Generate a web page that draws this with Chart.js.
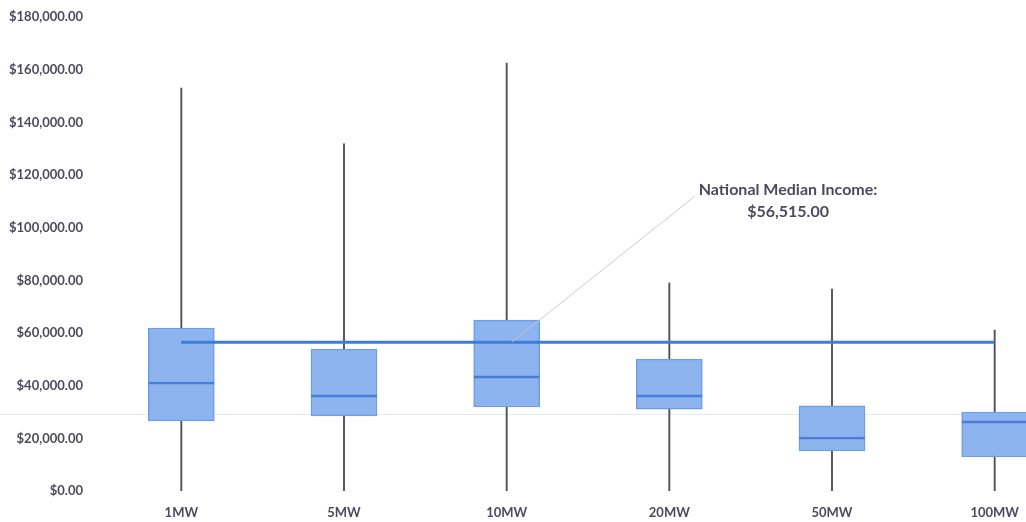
<!DOCTYPE html>
<html>
<head>
<meta charset="utf-8">
<script src="https://cdn.jsdelivr.net/npm/chart.js@4.4.1/dist/chart.umd.min.js"></script>
<style>
  html, body { margin: 0; padding: 0; background: #ffffff; overflow: hidden; }
  #wrap { width: 1080px; height: 522px; }
</style>
</head>
<body>
<div id="wrap"><canvas id="c" width="1080" height="522"></canvas></div>
<script>
// ---- Data ----
const categories   = ['1MW', '5MW', '10MW', '20MW', '50MW', '100MW'];
const minValues    = [0, 0, 0, 0, 0, 0];
const q1Values     = [26600, 28500, 31900, 31100, 15200, 12900];
const medianValues = [41400, 36500, 43700, 36500, 20500, 26600];
const q3Values     = [61900, 53900, 64900, 50100, 32300, 30000];
const maxValues    = [153000, 131800, 162500, 79000, 76700, 61100];
const nationalMedianIncome = 56515;
const nationalLabelLines = ['National Median Income:', '$56,515.00'];
const yTickMin = 0, yTickMax = 180000, yTickStep = 20000;
const faintRuleValue = 29200;          // faint horizontal scan rule
const labelCategoryPos = 3.73;         // annotation position (category index)
const labelValue = 110000;             // annotation position (value)

const textColor = '#4b4b5c';
const fmtMoney = v => '$' + Number(v).toLocaleString('en-US', { minimumFractionDigits: 2, maximumFractionDigits: 2 });

const whiskerData = categories.map((_, i) => [minValues[i], maxValues[i]]);
const boxData     = categories.map((_, i) => [q1Values[i], q3Values[i]]);
const nationalData = categories.map(() => nationalMedianIncome);

const overlayPlugin = {
  id: 'overlay',
  beforeDatasetsDraw(chart) {
    const { ctx, scales: { y } } = chart;
    const yy = Math.round(y.getPixelForValue(faintRuleValue)) + 0.5;
    ctx.save();
    ctx.strokeStyle = 'rgba(205,218,232,0.55)';
    ctx.lineWidth = 1;
    ctx.beginPath();
    ctx.moveTo(0, yy);
    ctx.lineTo(chart.width, yy);
    ctx.stroke();
    ctx.restore();
  },
  afterDatasetsDraw(chart) {
    const { ctx, scales: { x, y } } = chart;
    const i0 = Math.floor(labelCategoryPos);
    const cx = x.getPixelForValue(i0) + (labelCategoryPos - i0) * (x.getPixelForValue(i0 + 1) - x.getPixelForValue(i0));
    const cy = y.getPixelForValue(labelValue);
    ctx.save();
    ctx.font = 'bold 16px Lato, "Open Sans", sans-serif';
    ctx.fillStyle = textColor;
    ctx.textAlign = 'center';
    ctx.textBaseline = 'middle';
    const lh = 22;
    const top = cy - lh / 2;
    nationalLabelLines.forEach((t, k) => ctx.fillText(t, cx, top + k * lh));
    const w0 = ctx.measureText(nationalLabelLines[0]).width;
    // leader line
    const sx = x.getPixelForValue(2) + 5;
    const sy = y.getPixelForValue(nationalMedianIncome);
    ctx.strokeStyle = 'rgba(200,200,200,0.9)';
    ctx.lineWidth = 1;
    ctx.beginPath();
    ctx.moveTo(sx, sy);
    ctx.lineTo(cx - w0 / 2 - 4, top + 6);
    ctx.stroke();
    ctx.restore();
  }
};

new Chart(document.getElementById('c'), {
  data: {
    labels: categories,
    datasets: [
      {
        type: 'line',
        label: 'National Median Income',
        data: nationalData,
        borderColor: '#3b7ddd',
        borderWidth: 3,
        pointRadius: 0,
        fill: false,
        order: 0
      },
      {
        type: 'bar',
        label: 'Median',
        data: medianValues,
        grouped: false,
        barThickness: 66,
        backgroundColor: 'rgba(0,0,0,0)',
        borderColor: '#4a7ed6',
        borderWidth: { top: 2, right: 0, bottom: 0, left: 0 },
        borderSkipped: false,
        order: 1
      },
      {
        type: 'bar',
        label: 'IQR',
        data: boxData,
        grouped: false,
        barThickness: 66,
        backgroundColor: '#8db4ef',
        borderColor: '#6f9de4',
        borderWidth: 1.5,
        borderSkipped: false,
        order: 2
      },
      {
        type: 'bar',
        label: 'Range',
        data: whiskerData,
        grouped: false,
        barThickness: 1.2,
        backgroundColor: '#4d4d52',
        borderWidth: 0,
        order: 3
      }
    ]
  },
  options: {
    responsive: false,
    animation: false,
    layout: { padding: { top: 17, right: 4, left: 0, bottom: 0 } },
    plugins: { legend: { display: false }, tooltip: { enabled: false }, title: { display: false } },
    scales: {
      x: {
        type: 'category',
        offset: true,
        grid: { display: false, drawTicks: false },
        border: { display: false },
        ticks: { color: textColor, font: { family: 'Lato, "Open Sans", sans-serif', size: 13, weight: 'bold' }, padding: 14, maxRotation: 0 },
        afterFit(s) { s.height = 31; }
      },
      y: {
        type: 'linear',
        min: yTickMin,
        max: yTickMax,
        grid: { display: false, drawTicks: false },
        border: { display: false },
        ticks: {
          stepSize: yTickStep,
          color: textColor,
          font: { family: 'Lato, "Open Sans", sans-serif', size: 13, weight: 'bold' },
          padding: 17,
          callback: v => fmtMoney(v)
        },
        afterFit(s) { s.width = 100; s.paddingTop = 0; s.paddingBottom = 0; }
      }
    }
  },
  plugins: [overlayPlugin]
});
</script>
</body>
</html>
